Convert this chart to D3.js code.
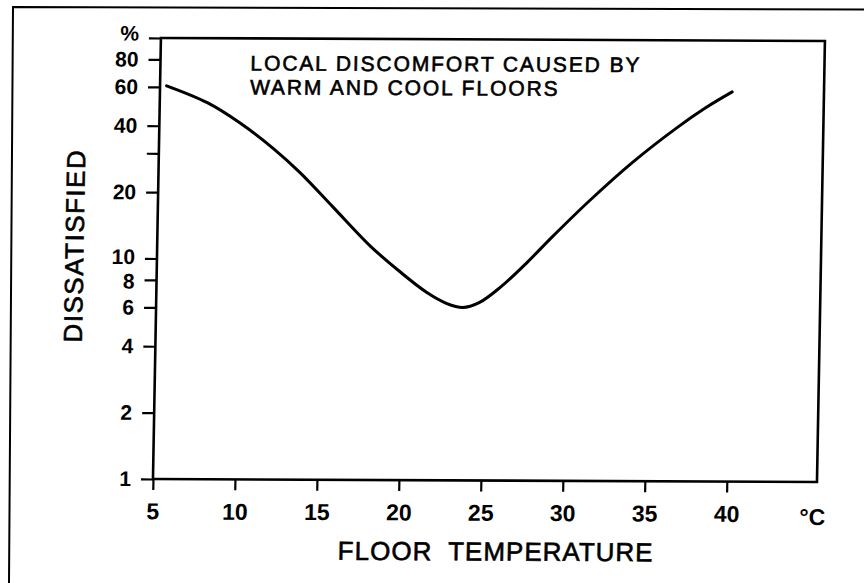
<!DOCTYPE html>
<html>
<head>
<meta charset="utf-8">
<script src="https://cdn.jsdelivr.net/npm/d3@7"></script>
<style>
  html, body { margin: 0; padding: 0; background: #fff; }
  svg { display: block; }
</style>
</head>
<body>
<svg id="chart" width="864" height="583"></svg>
<script>
// ---- data ----
const title = ["LOCAL DISCOMFORT CAUSED BY", "WARM AND COOL FLOORS"];
const xTicks = [5, 10, 15, 20, 25, 30, 35, 40];
const xTickLabels = ["5", "10", "15", "20", "25", "30", "35", "40"];
const yTicks = [1, 2, 4, 6, 8, 10, 20, 30, 40, 60, 80, 100];
const yTickLabels = ["1", "2", "4", "6", "8", "10", "20", "", "40", "60", "80", "%"];
const xUnit = "°C";
const xTitle = "FLOOR TEMPERATURE";
const yTitle = "DISSATISFIED";
// floor temperature (°C) and percentage dissatisfied along the curve
const temps = [5.4, 7.9, 9.9, 12.0, 13.6, 15.7, 18.0, 19.8, 21.5, 22.7, 23.7, 24.7, 26.0, 27.6, 29.1, 31.3, 33.9, 36.6, 38.3, 39.9];
const dissatisfied = [60.7, 51, 41.4, 31.6, 24.8, 17.2, 11.5, 8.85, 7.1, 6.35, 6.08, 6.4, 7.55, 9.8, 12.8, 18.6, 27.9, 40.3, 49.5, 58.5];

// ---- drawing ----
const svg = d3.select("#chart");
const L = 153, R = 817, T = 38, B = 479;

// outer frame of the scanned figure
svg.append("path")
  .attr("d", "M9,583 L13,7 L864,9.5")
  .attr("fill", "none").attr("stroke", "#000").attr("stroke-width", 2);

// whole figure is slightly sheared in the scan
const g = svg.append("g")
  .attr("transform", "matrix(1,0.0045,-0.018,1,8.6,-0.7)");

const x = d3.scaleLinear().domain([5, 45.5]).range([L, R]);
const y = d3.scaleLog().domain([1, 100]).range([B, T]);

const font = "'Liberation Sans', Arial, Helvetica, sans-serif";

// y axis
const yAxis = d3.axisLeft(y)
  .tickValues(yTicks)
  .tickSize(12)
  .tickPadding(10)
  .tickFormat((d, i) => yTickLabels[i]);
const gy = g.append("g").attr("transform", `translate(${L},0)`).call(yAxis);
gy.select(".domain").remove();
gy.selectAll(".tick line").attr("stroke", "#000").attr("stroke-width", 2.2);
gy.selectAll(".tick text")
  .attr("fill", "#000")
  .style("font-family", font)
  .style("font-weight", "bold")
  .style("font-size", "21px");
gy.selectAll(".tick text").filter((d) => d === 100).attr("dy", "0.1em");
gy.selectAll(".tick text").filter((d) => d === 10).attr("dy", "0.25em");
gy.selectAll(".tick text").filter((d) => d === 8).attr("dy", "0.4em");

// x axis
const xAxis = d3.axisBottom(x)
  .tickValues(xTicks)
  .tickSize(11)
  .tickPadding(13)
  .tickFormat((d, i) => xTickLabels[i]);
const gx = g.append("g").attr("transform", `translate(0,${B})`).call(xAxis);
gx.select(".domain").remove();
gx.selectAll(".tick line").attr("stroke", "#000").attr("stroke-width", 2.2);
gx.selectAll(".tick text")
  .attr("fill", "#000")
  .style("font-family", font)
  .style("font-weight", "bold")
  .style("font-size", "23px");

// unit label
g.append("text")
  .attr("x", R - 4).attr("y", B + 43)
  .attr("text-anchor", "middle")
  .style("font-family", font).style("font-weight", "bold").style("font-size", "23px")
  .text(xUnit);

// plot frame
g.append("rect")
  .attr("x", L).attr("y", T).attr("width", R - L).attr("height", B - T)
  .attr("fill", "none").attr("stroke", "#000").attr("stroke-width", 2.6);

// curve
const line = d3.line()
  .x((d, i) => x(temps[i]))
  .y((d) => y(d))
  .curve(d3.curveCatmullRom.alpha(0.5));
g.append("path")
  .datum(dissatisfied)
  .attr("d", line)
  .attr("fill", "none").attr("stroke", "#000").attr("stroke-width", 3)
  .attr("stroke-linecap", "round");

// annotation (two lines)
title.forEach((t, i) => {
  g.append("text")
    .attr("x", 243).attr("y", 70 + i * 24)
    .style("font-family", font).style("font-size", "21px")
    .style("letter-spacing", "1.9px")
    .attr("fill", "#000").attr("stroke", "#000").attr("stroke-width", 0.6)
    .text(t);
});

// axis titles
g.append("text")
  .attr("x", 497).attr("y", 559)
  .attr("text-anchor", "middle")
  .style("font-family", font).style("font-size", "26px")
  .style("letter-spacing", "1px").style("word-spacing", "8px")
  .attr("fill", "#000").attr("stroke", "#000").attr("stroke-width", 0.6)
  .text(xTitle);

g.append("text")
  .attr("transform", "translate(70,246) rotate(-90)")
  .attr("text-anchor", "middle")
  .attr("dy", "0.36em")
  .style("font-family", font).style("font-size", "26px")
  .style("letter-spacing", "1.5px")
  .attr("fill", "#000").attr("stroke", "#000").attr("stroke-width", 0.6)
  .text(yTitle);
</script>
</body>
</html>
